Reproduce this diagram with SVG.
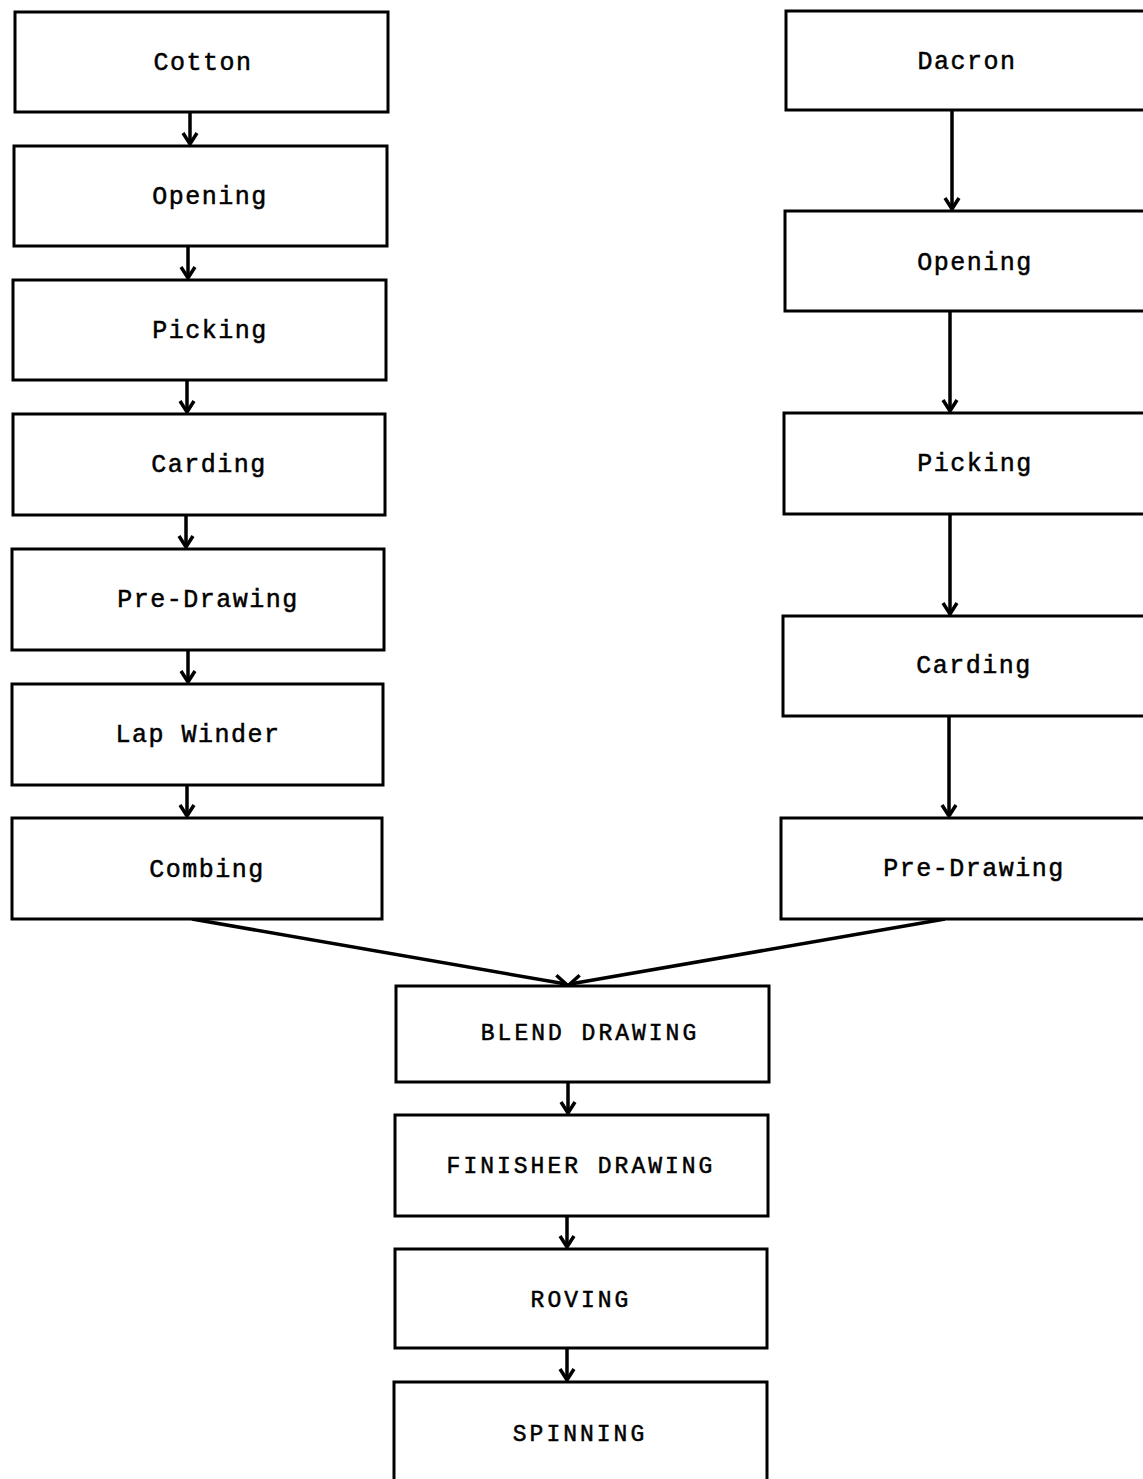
<svg xmlns="http://www.w3.org/2000/svg" width="1143" height="1479" viewBox="0 0 1143 1479">
<style>
.box{fill:#fff;stroke:#000;stroke-width:3}
.t{font-family:"Liberation Mono","DejaVu Sans Mono",monospace;font-size:25px;letter-spacing:1.5px;fill:#000;stroke:#000;stroke-width:0.5;text-anchor:middle;dominant-baseline:central}
.u{font-size:23px;letter-spacing:3px}
.c{stroke:#000;stroke-width:3.5;fill:none}
</style>
<defs>
<marker id="ah" markerUnits="userSpaceOnUse" markerWidth="24" markerHeight="24" viewBox="-12 -12 24 24" refX="0" refY="0" orient="auto">
<path d="M-11,-7 L0,0 L-11,7" fill="none" stroke="#000" stroke-width="3.5"/>
</marker>
</defs>
<rect width="1143" height="1479" fill="#fff"/>
<g id="connectors">
<line class="c" x1="190" y1="112" x2="190" y2="144" marker-end="url(#ah)"/>
<line class="c" x1="188" y1="246" x2="188" y2="278" marker-end="url(#ah)"/>
<line class="c" x1="187" y1="380" x2="187" y2="412" marker-end="url(#ah)"/>
<line class="c" x1="186" y1="515" x2="186" y2="547" marker-end="url(#ah)"/>
<line class="c" x1="188" y1="650" x2="188" y2="682" marker-end="url(#ah)"/>
<line class="c" x1="187" y1="785" x2="187" y2="816" marker-end="url(#ah)"/>
<line class="c" x1="952" y1="110" x2="952" y2="209" marker-end="url(#ah)"/>
<line class="c" x1="950" y1="311" x2="950" y2="411" marker-end="url(#ah)"/>
<line class="c" x1="950" y1="514" x2="950" y2="614" marker-end="url(#ah)"/>
<line class="c" x1="949" y1="716" x2="949" y2="816" marker-end="url(#ah)"/>
<line class="c" x1="192" y1="919" x2="566" y2="984" marker-end="url(#ah)"/>
<line class="c" x1="945" y1="919" x2="570" y2="984" marker-end="url(#ah)"/>
<line class="c" x1="568" y1="1082" x2="568" y2="1113" marker-end="url(#ah)"/>
<line class="c" x1="567" y1="1216" x2="567" y2="1247" marker-end="url(#ah)"/>
<line class="c" x1="567" y1="1348" x2="567" y2="1380" marker-end="url(#ah)"/>
</g>
<g id="cotton"><rect class="box" x="15" y="12" width="373" height="100"/><text class="t" x="203" y="63">Cotton</text></g>
<g id="opening-l"><rect class="box" x="14" y="146" width="373" height="100"/><text class="t" x="210" y="197">Opening</text></g>
<g id="picking-l"><rect class="box" x="13" y="280" width="373" height="100"/><text class="t" x="210" y="331">Picking</text></g>
<g id="carding-l"><rect class="box" x="13" y="414" width="372" height="101"/><text class="t" x="209" y="465">Carding</text></g>
<g id="predrawing-l"><rect class="box" x="12" y="549" width="372" height="101"/><text class="t" x="208" y="600">Pre-Drawing</text></g>
<g id="lapwinder"><rect class="box" x="12" y="684" width="371" height="101"/><text class="t" x="198" y="735">Lap Winder</text></g>
<g id="combing"><rect class="box" x="12" y="818" width="370" height="101"/><text class="t" x="207" y="870">Combing</text></g>
<g id="dacron"><rect class="box" x="786" y="11" width="380" height="99"/><text class="t" x="967" y="62">Dacron</text></g>
<g id="opening-r"><rect class="box" x="785" y="211" width="380" height="100"/><text class="t" x="975" y="263">Opening</text></g>
<g id="picking-r"><rect class="box" x="784" y="413" width="380" height="101"/><text class="t" x="975" y="464">Picking</text></g>
<g id="carding-r"><rect class="box" x="783" y="616" width="380" height="100"/><text class="t" x="974" y="666">Carding</text></g>
<g id="predrawing-r"><rect class="box" x="781" y="818" width="380" height="101"/><text class="t" x="974" y="869">Pre-Drawing</text></g>
<g id="blend"><rect class="box" x="396" y="986" width="373" height="96"/><text class="t u" x="590" y="1034">BLEND DRAWING</text></g>
<g id="finisher"><rect class="box" x="395" y="1115" width="373" height="101"/><text class="t u" x="581" y="1167">FINISHER DRAWING</text></g>
<g id="roving"><rect class="box" x="395" y="1249" width="372" height="99"/><text class="t u" x="581" y="1301">ROVING</text></g>
<g id="spinning"><rect class="box" x="394" y="1382" width="373" height="110"/><text class="t u" x="580" y="1435">SPINNING</text></g>
</svg>
